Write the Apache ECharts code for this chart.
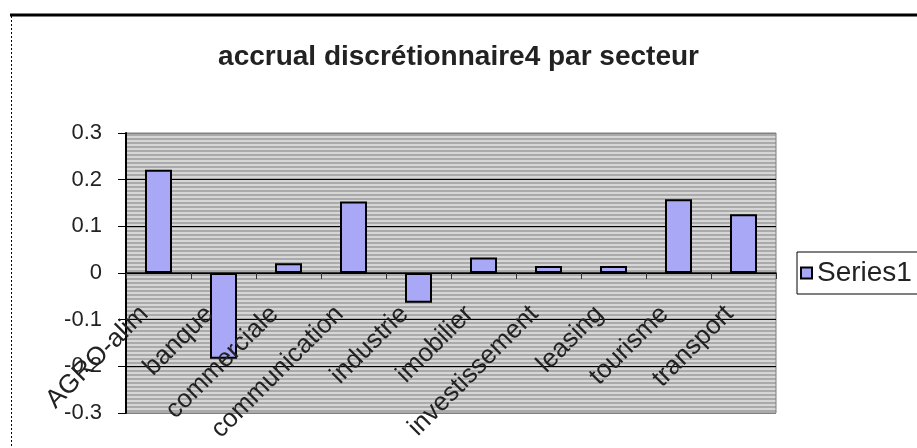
<!DOCTYPE html>
<html>
<head>
<meta charset="utf-8">
<script src="https://cdn.jsdelivr.net/npm/echarts@6/dist/echarts.min.js"></script>
<style>
html,body{margin:0;padding:0;background:#fff;}
#c{width:917px;height:448px;}
</style>
</head>
<body>
<div id="c"></div>
<script>
const categories = ["AGRO-alim", "banque", "commerciale", "communication", "industrie", "imobilier", "investissement", "leasing", "tourisme", "transport"];
const series1 = [0.221, -0.184, 0.021, 0.153, -0.064, 0.033, 0.015, 0.015, 0.158, 0.126];
const seriesName = "Series1";
const titleText = "accrual discrétionnaire4 par secteur";
const yMin = -0.3, yMax = 0.3, yStep = 0.1;

function stripe(c1, c2, h1, h2) {
  const cv = document.createElement('canvas');
  cv.width = 4; cv.height = h1 + h2;
  const g = cv.getContext('2d');
  g.fillStyle = c1; g.fillRect(0, 0, 4, h1);
  g.fillStyle = c2; g.fillRect(0, h1, 4, h2);
  return { image: cv, repeat: 'repeat' };
}

const FONT = "'Liberation Sans', Arial, sans-serif";
const chart = echarts.init(document.getElementById('c'), null, { renderer: 'canvas' });
chart.setOption({
  animation: false,
  backgroundColor: '#ffffff',
  title: {
    text: titleText,
    left: 'center',
    top: 38,
    textStyle: { fontFamily: FONT, fontSize: 28, fontWeight: 'bold', color: '#222' }
  },
  legend: {
    left: 797, top: 252,
    orient: 'vertical',
    padding: [7, 30, 7, 3],
    borderColor: '#000', borderWidth: 1,
    icon: 'rect',
    itemWidth: 11, itemHeight: 11,
    textStyle: { fontFamily: FONT, fontSize: 28, color: '#222' },
    data: [seriesName]
  },
  grid: {
    left: 126, right: 141, top: 133, bottom: 35,
    outerBoundsMode: 'none',
    show: true,
    backgroundColor: stripe('#d6d6d6', '#aaaaaa', 2, 2),
    borderColor: '#808080', borderWidth: 1
  },
  xAxis: {
    type: 'category',
    data: categories,
    z: 5,
    axisLine: { onZero: true, lineStyle: { color: '#000', width: 1.5 } },
    axisTick: { show: true, length: 6, lineStyle: { color: '#333' } },
    axisLabel: {
      show: true,
      rotate: 45, margin: -117, padding: [0, 20, 0, 0],
      interval: 0,
      fontFamily: FONT, fontSize: 26, color: '#222'
    },
    splitLine: { show: false }
  },
  yAxis: {
    type: 'value',
    min: yMin, max: yMax, interval: yStep,
    axisLine: { show: true, lineStyle: { color: '#000', width: 2 } },
    axisTick: { show: true, length: 8, lineStyle: { color: '#000' } },
    axisLabel: {
      margin: 24, fontFamily: FONT, fontSize: 22, color: '#222',
      formatter: v => String(Math.round(v * 10) / 10)
    },
    splitLine: { show: true, lineStyle: { color: ['#808080', '#000', '#000', '#000', '#000', '#000', '#808080'], width: 1 } }
  },
  series: [{
    name: seriesName,
    type: 'bar',
    data: series1,
    barWidth: 27,
    itemStyle: { color: '#a8a8f6', borderColor: '#000', borderWidth: 2 }
  }],
  graphic: [
    { type: 'line', shape: { x1: 10, y1: 15, x2: 917, y2: 15 }, style: { stroke: '#000', lineWidth: 3 } },
    { type: 'line', shape: { x1: 11.5, y1: 16, x2: 11.5, y2: 448 }, style: { stroke: '#000', lineWidth: 1, lineDash: [2, 2] } }
  ]
});
</script>
</body>
</html>
